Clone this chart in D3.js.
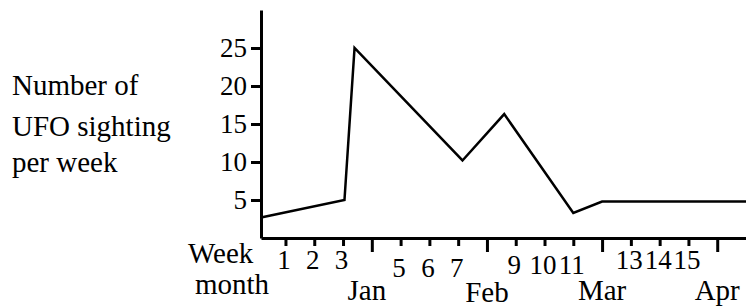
<!DOCTYPE html>
<html>
<head>
<meta charset="utf-8">
<script src="https://cdn.jsdelivr.net/npm/d3@7"></script>
<style>
  body { margin: 0; background: #fff; }
</style>
</head>
<body>
<div id="chart"></div>
<script>
// data
var weeks = [0.15, 3.05, 3.4, 7.15, 8.6, 11, 12, 17];
var sightings = [2.7, 5, 25, 10.2, 16.3, 3.3, 4.8, 4.8];
var yTicks = [5, 10, 15, 20, 25];
var weekTicks = [1, 2, 3, 4, 5, 6, 7, 8, 9, 10, 11, 12, 13, 14, 15, 16];
var monthWeeks = [4, 8, 12, 16];
var monthNames = ["Jan", "Feb", "Mar", "Apr"];
var yTitle = ["Number of", "UFO sighting", "per week"];

var width = 746, height = 307;
var serif = "'Liberation Serif'";

var svg = d3.select("#chart").append("svg")
    .attr("width", width)
    .attr("height", height);

var x = d3.scaleLinear().domain([0.15, 17]).range([261, 746]);
var y = d3.scaleLinear().domain([0, 30]).range([238, 10]);

// y axis
var yAxis = svg.append("g")
    .attr("transform", "translate(" + x.range()[0] + ",0)")
    .call(d3.axisLeft(y).tickValues(yTicks).tickSizeInner(10).tickSizeOuter(0).tickPadding(4));
yAxis.select(".domain").attr("stroke-width", 3);
yAxis.selectAll(".tick line").attr("stroke-width", 3);
yAxis.selectAll(".tick text")
    .style("font-family", serif)
    .style("font-size", "27px")
    .attr("dy", "0.3em");

// x axis, month boundaries get the long ticks and no label
var xAxis = svg.append("g")
    .attr("transform", "translate(0," + y(0) + ")")
    .call(d3.axisBottom(x).tickValues(weekTicks).tickSizeInner(8).tickSizeOuter(0)
        .tickFormat(function(d) { return monthWeeks.indexOf(d) >= 0 ? "" : d; }));
xAxis.select(".domain").attr("stroke-width", 3);
xAxis.selectAll(".tick line")
    .attr("stroke-width", 3)
    .attr("y2", function(d) { return monthWeeks.indexOf(d) >= 0 ? 14 : 8; });

// the week numbers sit at slightly different heights per month
var drop = [0, 8, 5, 0];
xAxis.selectAll(".tick text")
    .style("font-family", serif)
    .style("font-size", "27px")
    .attr("dx", "-2")
    .attr("y", function(d) { return 12 + drop[Math.floor((d - 1) / 4)]; });

// month labels
svg.selectAll(".month")
    .data(monthNames)
    .enter().append("text")
    .attr("class", "month")
    .attr("x", function(d, i) { return x(monthWeeks[i]) - (i == 0 ? 5 : 0); })
    .attr("y", function(d, i) { return i == 1 ? 302 : 300; })
    .attr("text-anchor", "middle")
    .style("font-family", serif)
    .style("font-size", "29px")
    .text(function(d) { return d; });

svg.append("text")
    .attr("x", 188).attr("y", 263)
    .style("font-family", serif)
    .style("font-size", "29px")
    .text("Week");
svg.append("text")
    .attr("x", 195).attr("y", 294)
    .style("font-family", serif)
    .style("font-size", "29px")
    .text("month");

// y title
svg.append("g").selectAll("text")
    .data(yTitle)
    .enter().append("text")
    .attr("x", 12)
    .attr("y", function(d, i) { return [95, 136, 172][i]; })
    .style("font-family", serif)
    .style("font-size", "29px")
    .text(function(d) { return d; });

// the line
var line = d3.line()
    .x(function(d, i) { return x(weeks[i]); })
    .y(function(d) { return y(d); });

svg.append("path")
    .datum(sightings)
    .attr("d", line)
    .attr("fill", "none")
    .attr("stroke", "#000")
    .attr("stroke-width", 2.5)
    .attr("stroke-linejoin", "miter");
</script>
</body>
</html>
